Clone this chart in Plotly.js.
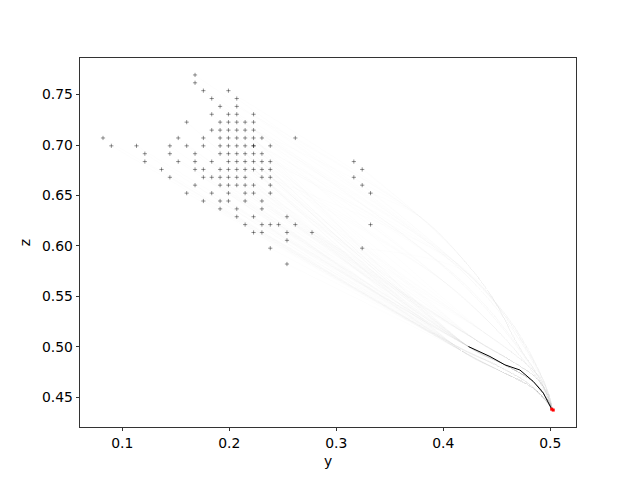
<!DOCTYPE html>
<html><head><meta charset="utf-8">
<script src="https://cdn.plot.ly/plotly-3.0.1.min.js"></script>
<style>html,body{margin:0;padding:0;background:#fff}</style>
</head><body><div id="chart" style="width:640px;height:480px"></div>
<script>
// starting points (y, z)
const startY = [
 0.1680,
 0.1680,
 0.1758, 0.1992,
 0.1836, 0.2070,
 0.1914, 0.2070,
 0.1836, 0.1992, 0.2070, 0.2227,
 0.1602, 0.1914, 0.1992, 0.2070, 0.2148, 0.2227,
 0.1836, 0.1914, 0.1992, 0.2070, 0.2148, 0.2227,
 0.0820, 0.1523, 0.1758, 0.1914, 0.1992, 0.2070, 0.2148, 0.2227, 0.2305, 0.2617,
 0.0898, 0.1133, 0.1445, 0.1602, 0.1758, 0.1914, 0.1992, 0.2070, 0.2148, 0.2227, 0.2227, 0.2383,
 0.1211, 0.1445, 0.1680, 0.1914, 0.1992, 0.2070, 0.2148, 0.2227, 0.2305,
 0.1211, 0.1523, 0.1680, 0.1836, 0.1992, 0.2070, 0.2148, 0.2227, 0.2305, 0.2383, 0.3164,
 0.1367, 0.1680, 0.1758, 0.1914, 0.1992, 0.2070, 0.2148, 0.2227, 0.2305, 0.2383, 0.3242,
 0.1445, 0.1758, 0.1836, 0.1914, 0.1992, 0.2070, 0.2148, 0.2305, 0.2383, 0.3164,
 0.1680, 0.1914, 0.1992, 0.2070, 0.2148, 0.2227, 0.2383, 0.3242,
 0.1602, 0.1836, 0.1992, 0.2148, 0.2227, 0.2383, 0.3320,
 0.1758, 0.1914, 0.1992, 0.2148, 0.2305,
 0.1914, 0.2070, 0.2305,
 0.2070, 0.2227, 0.2539,
 0.2148, 0.2305, 0.2383, 0.2461, 0.2617, 0.3320,
 0.2227, 0.2305, 0.2539, 0.2773,
 0.2539,
 0.2383, 0.3242,
 0.2539
];
const startZ = [
 0.7695,
 0.7617,
 0.7539, 0.7539,
 0.7461, 0.7461,
 0.7383, 0.7383,
 0.7305, 0.7305, 0.7305, 0.7305,
 0.7227, 0.7227, 0.7227, 0.7227, 0.7227, 0.7227,
 0.7148, 0.7148, 0.7148, 0.7148, 0.7148, 0.7148,
 0.7070, 0.7070, 0.7070, 0.7070, 0.7070, 0.7070, 0.7070, 0.7070, 0.7070, 0.7070,
 0.6992, 0.6992, 0.6992, 0.6992, 0.6992, 0.6992, 0.6992, 0.6992, 0.6992, 0.6992, 0.6992, 0.6992,
 0.6914, 0.6914, 0.6914, 0.6914, 0.6914, 0.6914, 0.6914, 0.6914, 0.6914,
 0.6836, 0.6836, 0.6836, 0.6836, 0.6836, 0.6836, 0.6836, 0.6836, 0.6836, 0.6836, 0.6836,
 0.6758, 0.6758, 0.6758, 0.6758, 0.6758, 0.6758, 0.6758, 0.6758, 0.6758, 0.6758, 0.6758,
 0.6680, 0.6680, 0.6680, 0.6680, 0.6680, 0.6680, 0.6680, 0.6680, 0.6680, 0.6680,
 0.6602, 0.6602, 0.6602, 0.6602, 0.6602, 0.6602, 0.6602, 0.6602,
 0.6523, 0.6523, 0.6523, 0.6523, 0.6523, 0.6523, 0.6523,
 0.6445, 0.6445, 0.6445, 0.6445, 0.6445,
 0.6367, 0.6367, 0.6367,
 0.6289, 0.6289, 0.6289,
 0.6211, 0.6211, 0.6211, 0.6211, 0.6211, 0.6211,
 0.6133, 0.6133, 0.6133, 0.6133,
 0.6055,
 0.5977, 0.5977,
 0.5820
];
// which estimated path each trajectory follows after leaving its start
const routeOf = [
 7,
 10,
 5, 8,
 0, 6,
 11, 8,
 1, 7, 4, 9,
 2, 0, 5, 1, 10, 6,
 3, 0, 4, 11, 0, 8,
 2, 0, 1, 5, 0, 3, 9, 0, 7, 8,
 3, 0, 2, 1, 0, 4, 2, 0, 11, 1, 0, 6,
 2, 0, 3, 0, 1, 5, 0, 2, 10,
 3, 0, 2, 1, 0, 4, 0, 2, 0, 9, 8,
 2, 0, 1, 3, 0, 2, 6, 0, 1, 0, 8,
 3, 0, 2, 1, 0, 4, 0, 2, 5, 9,
 2, 0, 3, 1, 0, 2, 0, 6,
 3, 0, 2, 1, 0, 4, 8,
 2, 0, 3, 1, 0,
 2, 0, 3,
 2, 0, 1,
 3, 0, 2, 1, 4, 5,
 2, 0, 3, 1,
 2,
 3, 9,
 2
];
// estimated waypoints of the trajectory bundles
const routeY = [
 [0.4234, 0.4576, 0.4841, 0.4935],
 [0.430, 0.462, 0.487, 0.497],
 [0.417, 0.453, 0.481, 0.494],
 [0.410, 0.449, 0.479, 0.493],
 [0.437, 0.467, 0.489, 0.498],
 [0.400, 0.445, 0.474, 0.493],
 [0.410, 0.452, 0.478, 0.495],
 [0.390, 0.435, 0.466, 0.489],
 [0.378, 0.419, 0.447, 0.468, 0.490],
 [0.420, 0.458, 0.482, 0.497],
 [0.370, 0.420, 0.458, 0.485],
 [0.395, 0.440, 0.470, 0.491]
];
const routeZ = [
 [0.5002, 0.4820, 0.4655, 0.4540],
 [0.507, 0.487, 0.469, 0.454],
 [0.496, 0.476, 0.461, 0.449],
 [0.502, 0.482, 0.464, 0.450],
 [0.515, 0.492, 0.471, 0.455],
 [0.565, 0.522, 0.488, 0.460],
 [0.585, 0.540, 0.500, 0.462],
 [0.600, 0.556, 0.515, 0.474],
 [0.629, 0.586, 0.547, 0.505, 0.468],
 [0.575, 0.530, 0.490, 0.458],
 [0.605, 0.560, 0.515, 0.475],
 [0.585, 0.540, 0.500, 0.466]
];
const endY = 0.5019, endZ = 0.4376;
// black mean path
const meanY = [0.4234, 0.4436, 0.4576, 0.4716, 0.4841, 0.4935, 0.5013];
const meanZ = [0.5002, 0.4903, 0.4820, 0.4769, 0.4655, 0.4540, 0.4381];
// red final points
const finalY = [0.5013, 0.5027];
const finalZ = [0.4381, 0.4372];

const xTicks = [0.1, 0.2, 0.3, 0.4, 0.5];
const xTickText = ['0.1', '0.2', '0.3', '0.4', '0.5'];
const yTicks = [0.45, 0.50, 0.55, 0.60, 0.65, 0.70, 0.75];
const yTickText = ['0.45', '0.50', '0.55', '0.60', '0.65', '0.70', '0.75'];

const traces = [];
for (let i = 0; i < startY.length; i++) {
  const r = routeOf[i];
  traces.push({
    x: [startY[i]].concat(routeY[r], [endY]),
    y: [startZ[i]].concat(routeZ[r], [endZ]),
    mode: 'lines', type: 'scatter',
    line: {color: 'rgb(128,128,128)', width: 0.7, shape: 'spline', smoothing: 1},
    opacity: 0.032, hoverinfo: 'skip', showlegend: false
  });
}
traces.push({x: meanY, y: meanZ, mode: 'lines', type: 'scatter',
  line: {color: '#000', width: 1}, showlegend: false});
traces.push({x: startY, y: startZ, mode: 'markers', type: 'scatter',
  marker: {symbol: 'cross-thin', size: 3, color: 'rgba(0,0,0,0.42)',
           line: {width: 1, color: 'rgba(0,0,0,0.42)'}}, showlegend: false});
traces.push({x: finalY, y: finalZ, mode: 'markers', type: 'scatter',
  marker: {symbol: 'square', size: 3, color: '#ff0000', line: {width: 0}}, showlegend: false});

const axisCommon = {
  ticks: 'outside', ticklen: 3.5, tickwidth: 0.8, tickcolor: '#000',
  showline: true, mirror: true, linecolor: '#000', linewidth: 0.8,
  showgrid: false, zeroline: false, automargin: false,
  tickfont: {family: 'DejaVu Sans', size: 13.9, color: '#000'}
};
const layout = {
  width: 640, height: 480,
  margin: {l: 80, r: 64, t: 58, b: 53, pad: 0},
  paper_bgcolor: '#fff', plot_bgcolor: '#fff',
  showlegend: false,
  font: {family: 'DejaVu Sans', size: 13.9, color: '#000'},
  xaxis: Object.assign({}, axisCommon, {
    range: [0.0605, 0.5240], tickmode: 'array', tickvals: xTicks, ticktext: xTickText,
    title: {text: 'y', standoff: 6, font: {family: 'DejaVu Sans', size: 13.9, color: '#000'}}
  }),
  yaxis: Object.assign({}, axisCommon, {
    range: [0.4204, 0.7863], tickmode: 'array', tickvals: yTicks, ticktext: yTickText,
    title: {text: 'z', standoff: 8, font: {family: 'DejaVu Sans', size: 13.9, color: '#000'}}
  })
};
Plotly.newPlot('chart', traces, layout, {staticPlot: true, displayModeBar: false});
</script></body></html>
